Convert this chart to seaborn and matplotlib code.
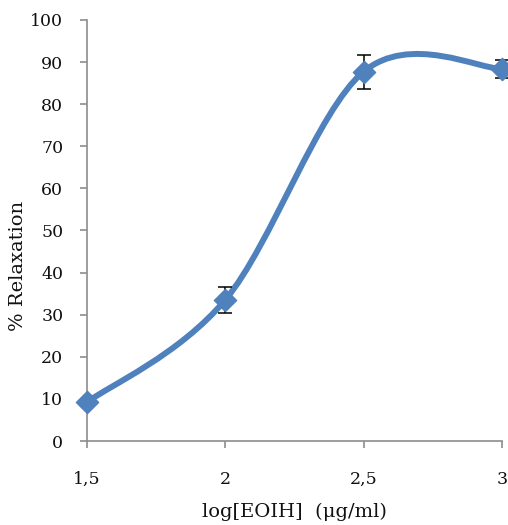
import numpy as np
import matplotlib
matplotlib.use("Agg")
import matplotlib.pyplot as plt
from matplotlib.path import Path
from matplotlib.patches import PathPatch
import seaborn as sns

log_conc = [1.5, 2.0, 2.5, 3.0]
relaxation = [9.2, 33.5, 87.7, 88.4]
sem = [0.0, 3.0, 4.0, 2.2]
x_ticks = [1.5, 2.0, 2.5, 3.0]
x_tick_labels = ["1,5", "2", "2,5", "3"]
y_ticks = list(range(0, 101, 10))

BLUE = "#4F81BD"
AXIS = "#8c8c8c"
TEXT = "#111111"

sns.set_style("ticks")
plt.rcParams['font.family'] = ['DejaVu Serif', 'Liberation Serif']

fig = plt.figure(figsize=(5.08, 5.25), dpi=100)
ax = fig.add_axes([0.171, 0.16, 0.817, 0.802])


def smooth_path(xs, ys, k=1/6):
    # bezier segments like a spreadsheet "smoothed line"
    pts = np.column_stack([xs, ys])
    n = len(pts)
    verts = [pts[0]]
    codes = [Path.MOVETO]
    for i in range(n - 1):
        p0 = pts[max(i - 1, 0)]
        p1 = pts[i]
        p2 = pts[i + 1]
        p3 = pts[min(i + 2, n - 1)]
        c1 = p1 + (p2 - p0) * k
        c2 = p2 - (p3 - p1) * k
        verts += [c1, c2, p2]
        codes += [Path.CURVE4] * 3
    return Path(verts, codes)


ax.add_patch(PathPatch(smooth_path(log_conc, relaxation), facecolor="none",
                       edgecolor=BLUE, lw=4.3, capstyle="round",
                       joinstyle="round", clip_on=False, zorder=2))

ax.errorbar(log_conc, relaxation, yerr=sem, fmt="none", ecolor="black",
            elinewidth=1.1, capsize=5, capthick=1.1, zorder=3, clip_on=False)

sns.scatterplot(x=log_conc, y=relaxation, marker="D", s=130, color=BLUE,
                edgecolor=BLUE, ax=ax, zorder=4, clip_on=False)

ax.set_xlim(1.5, 3.0)
ax.set_ylim(0, 100)
ax.set_xticks(x_ticks)
ax.set_xticklabels(x_tick_labels)
ax.set_yticks(y_ticks)

sns.despine(ax=ax)
for side in ["left", "bottom"]:
    ax.spines[side].set_color(AXIS)
    ax.spines[side].set_linewidth(1.2)

ax.tick_params(axis="both", colors=AXIS, width=1.2, length=5,
               labelcolor=TEXT, labelsize=12.5)
ax.tick_params(axis="x", pad=16.5)
ax.tick_params(axis="y", pad=12)

ax.set_xlabel("log[EOIH]  (\u03bcg/ml)", fontsize=14, color=TEXT, va="top")
ax.set_ylabel("% Relaxation", fontsize=14, color=TEXT)
ax.xaxis.set_label_coords(0.5, -0.147)
ax.yaxis.set_label_coords(-0.145, 0.416)

fig.savefig("out.png", dpi=100)
plt.close(fig)
